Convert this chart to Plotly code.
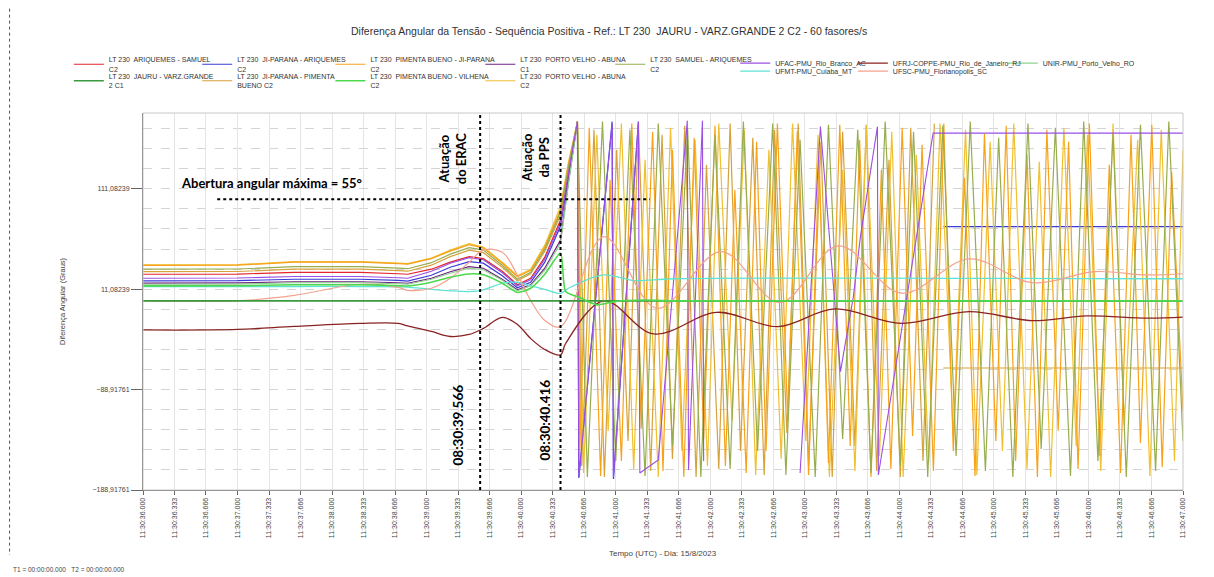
import plotly.graph_objects as go

# Figure geometry (pixels). The page body adds an 8px offset, so the figure is drawn 8px smaller.
OFF = 8
W, H = 1206, 569
ML, MR, MT, MB = 134.5, 31, 105.3, 87
PW, PH = W - ML - MR, H - MT - MB


def px_x(px):
    return (px - OFF - ML) / PW


def px_y(py):
    return 1 - (py - OFF - MT) / PH


Y_MIN, Y_MAX = -188.91761, 186.6

# ---------------- data ----------------
x_ticks = [36.0, 36.333, 36.666, 37.0, 37.333, 37.666, 38.0, 38.333, 38.666, 39.0, 39.333, 39.666,
           40.0, 40.333, 40.666, 41.0, 41.333, 41.666, 42.0, 42.333, 42.666, 43.0, 43.333, 43.666,
           44.0, 44.333, 44.666, 45.0, 45.333, 45.666, 46.0, 46.333, 46.666, 47.0]
x_labels = ["11:30:36.000", "11:30:36.333", "11:30:36.666", "11:30:37.000", "11:30:37.333", "11:30:37.666",
            "11:30:38.000", "11:30:38.333", "11:30:38.666", "11:30:39.000", "11:30:39.333", "11:30:39.666",
            "11:30:40.000", "11:30:40.333", "11:30:40.666", "11:30:41.000", "11:30:41.333", "11:30:41.666",
            "11:30:42.000", "11:30:42.333", "11:30:42.666", "11:30:43.000", "11:30:43.333", "11:30:43.666",
            "11:30:44.000", "11:30:44.333", "11:30:44.666", "11:30:45.000", "11:30:45.333", "11:30:45.666",
            "11:30:46.000", "11:30:46.333", "11:30:46.666", "11:30:47.000"]

# common time base before the PPS action (s after 11:30:00)
t_pre = [36.0, 37.0, 37.6, 38.3, 38.7, 38.8, 39.05, 39.25, 39.45, 39.6, 39.8, 39.96, 40.1, 40.25, 40.416]

v_pre_pv2 = [35.3, 35.5, 38.6, 38.6, 37.0, 36.5, 42.0, 50.0, 56.5, 53.0, 38.0, 24.5, 31.0, 55.0, 93.5]
v_pre_pbjp = [34.8, 35.0, 38.0, 38.0, 36.5, 36.0, 41.5, 49.0, 55.5, 52.0, 37.0, 23.5, 30.0, 53.0, 90.0]
v_pre_sam = [31.0, 31.2, 33.5, 33.5, 32.0, 31.5, 37.5, 46.0, 52.5, 50.0, 35.0, 21.0, 28.0, 51.0, 88.0]
v_pre_jpp = [28.5, 28.7, 31.0, 31.0, 29.5, 29.0, 35.0, 43.5, 50.0, 47.5, 33.0, 19.5, 26.5, 49.0, 85.0]
v_pre_as = [26.0, 26.2, 27.8, 27.8, 26.5, 26.0, 31.0, 38.0, 43.5, 41.5, 29.0, 15.5, 22.0, 43.0, 80.0]
v_pre_ufac = [22.0, 22.2, 23.8, 23.8, 22.5, 22.0, 29.0, 37.0, 42.5, 40.5, 27.5, 14.5, 20.5, 41.0, 77.0]
v_pre_jpa = [19.4, 19.6, 21.0, 21.0, 19.8, 19.2, 25.0, 33.0, 38.5, 37.0, 24.5, 12.5, 18.0, 38.0, 74.0]
v_pre_pv1 = [17.1, 17.3, 18.5, 18.5, 17.5, 17.0, 22.0, 28.5, 33.5, 32.0, 21.0, 10.5, 15.5, 32.0, 60.0]
v_pre_unir = [16.0, 16.2, 17.5, 17.5, 16.5, 16.0, 21.0, 27.0, 32.0, 30.5, 20.0, 9.5, 14.5, 30.0, 57.0]
v_pre_vil = [14.4, 14.5, 15.5, 15.5, 14.6, 14.3, 18.0, 23.0, 26.3, 25.5, 17.0, 7.8, 12.0, 26.0, 47.0]
v_pre_ufmt = [13.7, 13.7, 13.8, 13.8, 13.5, 13.2, 11.0, 9.5, 8.7, 10.5, 17.0, 18.0, 14.5, 11.0, 7.0]
v_pre_ufsc = [-0.5, -0.5, 5.0, 16.0, 13.0, 10.0, 12.0, 22.0, 38.0, 50.0, 48.0, 25.0, 0.0, -20.0, -26.2]
v_pre_ufrj = [-29.5, -29.0, -26.0, -23.0, -23.0, -25.5, -31.0, -36.0, -34.0, -28.0, -17.0, -24.0, -38.0, -49.0, -54.4]

# climb to +180 right after the PPS action
t_rise = [40.5, 40.595]
v_rise_pv2 = [138, 178]
v_rise_pbjp = [135, 177]
v_rise_sam = [133, 178]
v_rise_jpp = [132, 178]
v_rise_as = [128, 178]
v_rise_ufac = [127, 178]
v_rise_jpa = [125, 178]
v_rise_pv1 = [118, 178]
v_rise_unir = [116, 177]

# out-of-step (wrapping) part
t_pbjp = [40.62, 40.72, 40.84, 40.94, 41.06, 41.17, 41.27, 41.39, 41.50, 41.60, 41.72, 41.83, 41.93, 42.05,
          42.16, 42.26, 42.38, 42.49, 42.59, 42.71, 42.82, 42.92, 43.04, 43.15, 43.25, 43.37, 43.48, 43.58,
          43.70, 43.81, 43.91, 44.03, 44.14, 44.24, 44.36, 44.47, 44.57, 44.69, 44.80, 44.90, 45.02, 45.13,
          45.23, 45.35, 45.46, 45.56, 45.68, 45.79, 45.89, 46.01, 46.12, 46.22, 46.34, 46.45, 46.55, 46.67,
          46.78, 46.88, 47.0]
v_pbjp = [-148, 172, -175, 120, -160, 176, -128, 168, -170, 150, -176, 162, -138, 174, -165, 110, -172, 158,
          -150, 176, -120, 168, -174, 140, -162, 175, -145, 160, -176, 130, -168, 172, -135, 155, -170, 176,
          -150, 122, -175, 166, -140, 174, -160, 145, -176, 170, -130, 158, -168, 176, -155, 135, -172, 165,
          -142, 175, -166, 128, -110]

t_pv2 = [40.66, 40.80, 40.92, 41.06, 41.19, 41.31, 41.45, 41.58, 41.70, 41.84, 41.97, 42.09, 42.23, 42.36,
         42.48, 42.62, 42.75, 42.87, 43.01, 43.14, 43.26, 43.40, 43.53, 43.65, 43.79, 43.92, 44.04, 44.18,
         44.31, 44.43, 44.57, 44.70, 44.82, 44.96, 45.09, 45.21, 45.35, 45.48, 45.60, 45.74, 45.87, 45.99,
         46.13, 46.26, 46.38, 46.52, 46.65, 46.77, 46.91, 47.0]
v_pv2 = [-172, 165, -130, 176, -168, 140, -176, 172, -150, 160, -165, 176, -120, 170, -174, 150, -158, 176,
         -140, 165, -176, 130, -170, 174, -155, 168, -176, 145, -162, 176, -135, 170, -174, 158, -150, 176,
         -168, 138, -176, 172, -145, 165, -170, 176, -125, 160, -175, 170, -160, 150]

t_sam = [40.70, 40.86, 41.00, 41.15, 41.31, 41.45, 41.60, 41.76, 41.90, 42.05, 42.21, 42.35, 42.50, 42.66,
         42.80, 42.95, 43.11, 43.25, 43.40, 43.56, 43.70, 43.85, 44.01, 44.15, 44.30, 44.46, 44.60, 44.75,
         44.91, 45.05, 45.20, 45.36, 45.50, 45.65, 45.81, 45.95, 46.10, 46.26, 46.40, 46.55, 46.71, 46.85, 47.0]
v_sam = [-176, 178, -160, 170, -175, 176, -145, 172, -176, 165, -168, 178, -150, 176, -174, 160, -176, 175,
         -138, 170, -172, 178, -165, 168, -176, 174, -155, 178, -170, 162, -176, 176, -148, 172, -175, 178,
         -160, 166, -176, 175, -170, 178, -140]

t_jpp = [40.64, 40.77, 40.88, 41.01, 41.13, 41.24, 41.37, 41.49, 41.60, 41.73, 41.85, 41.96, 42.09, 42.21,
         42.32, 42.45, 42.57, 42.68, 42.81, 42.93, 43.04, 43.17, 43.29, 43.40, 43.53, 43.65, 43.76, 43.89,
         44.01, 44.12, 44.25, 44.37, None, 44.466, 47.0]
v_jpp = [-165, 170, -176, 150, -140, 176, -170, 165, -158, 174, -176, 135, -168, 176, -150, 162, -174, 170,
         -132, 176, -165, 158, -176, 168, -145, 175, -170, 140, -176, 172, -160, 176, None, -67.4, -67.4]

t_post_jpa = [40.61, 40.962, 40.976, 41.24, None, 44.466, 47.0]
v_post_jpa = [-177, 178, -178, 178, None, 73.5, 73.5]

t_post_ufac = [40.61, 40.962, 40.976, 41.24, 41.255, 41.45, 41.757, 41.77, 41.917, 41.93, None,
               42.95, 43.165, 43.377, 43.514, 43.588, 43.768, 43.778, 44.357, 47.0]
v_post_ufac = [-176, 176, -176, 178, -172, -159, 179, -169, 179, -160, None,
               -172, 173, -71, 4, 63.5, 173, -174, 166.6, 166.6]

t_post_ufmt = [40.5, 40.874, 41.2, 41.6, 47.0]
v_post_ufmt = [12.0, 25.3, 19.7, 21.5, 21.5]

t_post_ufsc = [40.874, 41.438, 42.115, 42.737, 43.356, 44.022, 44.737, 45.403, 46.07, 46.62, 47.0]
v_post_ufsc = [63.5, -7.9, 48.6, -2.3, 54.3, 7.1, 41.3, 17.7, 28.6, 25.3, 26.5]

t_post_ufrj = [40.47, 40.874, 41.403, 42.071, 42.715, 43.314, 44.022, 44.737, 45.403, 45.979, 46.62, 47.0]
v_post_ufrj = [-43.0, -0.6, -33.5, -11.9, -26.2, -8.6, -22.9, -11.3, -20.2, -15.5, -17.8, -16.8]

t_post_vil = [40.47, 40.6, 40.8, 41.0, 41.3, 41.6, 47.0]
v_post_vil = [8.7, 3.5, -4.5, -1.0, 0.3, -0.5, -0.5]

t_jauru = [36.0, 47.0]
v_jauru = [-0.5, -0.5]

# ---------------- traces ----------------
# legend slot: (text x px, centre y px)
leg_cols = [108.3, 236.7, 370, 520, 650, 775, 892.7, 1042.7]
ROW1_2L, ROW2_2L, ROW1_1L, ROW2_1L = 65.0, 81.5, 63.5, 71.5

series = [
    # name, colour, width, x, y, shape, smoothing, legend slot
    ("LT 230  JI-PARANA - ARIQUEMES<br>C2", "#3a3ad8", 1.2,
     t_pre + t_rise + t_post_jpa, v_pre_jpa + v_rise_jpa + v_post_jpa, "linear", 0, (leg_cols[1], ROW1_2L)),
    ("LT 230  ARIQUEMES - SAMUEL<br>C2", "#e3262b", 1.2,
     t_pre + t_rise, v_pre_as + v_rise_as, "linear", 0, (leg_cols[0], ROW1_2L)),
    ("LT 230  PORTO VELHO - ABUNA<br>C1", "#6b2080", 1.2,
     t_pre + t_rise, v_pre_pv1 + v_rise_pv1, "linear", 0, (leg_cols[3], ROW1_2L)),
    ("UNIR-PMU_Porto_Velho_RO", "#8fd08f", 1.2,
     t_pre + t_rise, v_pre_unir + v_rise_unir, "linear", 0, (leg_cols[7], ROW1_1L)),
    ("LT 230  JI-PARANA - PIMENTA<br>BUENO C2", "#d6a23c", 1.2,
     t_pre + t_rise + t_jpp, v_pre_jpp + v_rise_jpp + v_jpp, "linear", 0, (leg_cols[1], ROW2_2L)),
    ("LT 230  PORTO VELHO - ABUNA<br>C2", "#f0c030", 1.2,
     t_pre + t_rise + t_pv2, v_pre_pv2 + v_rise_pv2 + v_pv2, "linear", 0, (leg_cols[3], ROW2_2L)),
    ("LT 230  PIMENTA BUENO - JI-PARANA<br>C2", "#f7a21b", 1.2,
     t_pre + t_rise + t_pbjp, v_pre_pbjp + v_rise_pbjp + v_pbjp, "linear", 0, (leg_cols[2], ROW1_2L)),
    ("LT 230  SAMUEL - ARIQUEMES<br>C2", "#98ad4e", 1.2,
     t_pre + t_rise + t_sam, v_pre_sam + v_rise_sam + v_sam, "linear", 0, (leg_cols[4], ROW1_2L)),
    ("UFAC-PMU_Rio_Branco_AC", "#9b4fe3", 1.1,
     t_pre + t_rise + t_post_ufac, v_pre_ufac + v_rise_ufac + v_post_ufac, "linear", 0, (leg_cols[5], ROW1_1L)),
    ("UFMT-PMU_Cuiaba_MT", "#5ee3d3", 1.3,
     t_pre + t_post_ufmt, v_pre_ufmt + v_post_ufmt, "spline", 0.8, (leg_cols[5], ROW2_1L)),
    ("UFSC-PMU_Florianopolis_SC", "#f3a28e", 1.2,
     t_pre + t_post_ufsc, v_pre_ufsc + v_post_ufsc, "spline", 1.0, (leg_cols[6], ROW2_1L)),
    ("UFRJ-COPPE-PMU_Rio_de_Janeiro_RJ", "#8a2222", 1.3,
     t_pre + t_post_ufrj, v_pre_ufrj + v_post_ufrj, "spline", 1.0, (leg_cols[6], ROW1_1L)),
    ("LT 230  JAURU - VARZ.GRANDE<br>2 C1", "#3a9a3f", 1.6,
     t_jauru, v_jauru, "linear", 0, (leg_cols[0], ROW2_2L)),
    ("LT 230  PIMENTA BUENO - VILHENA<br>C2", "#4ed84e", 1.6,
     t_pre + t_post_vil, v_pre_vil + v_post_vil, "spline", 0.6, (leg_cols[2], ROW2_2L)),
]

fig = go.Figure()
legends = {}
for i, (name, color, width, xs, ys, shape, smooth, slot) in enumerate(series):
    key = "legend" if i == 0 else "legend%d" % (i + 1)
    line = dict(color=color, width=width, shape=shape)
    if shape == "spline":
        line["smoothing"] = smooth
    fig.add_trace(go.Scatter(x=xs, y=ys, mode="lines", name=name, line=line,
                             legend=key, hoverinfo="skip"))
    legends[key] = dict(x=px_x(slot[0] - 40), xanchor="left", y=px_y(slot[1]), yanchor="middle",
                        bgcolor="rgba(0,0,0,0)", borderwidth=0, itemwidth=30,
                        font=dict(size=7, color="#333", family="Liberation Sans, Arial, sans-serif"))

title = "Diferença Angular da Tensão - Sequência Positiva - Ref.: LT 230  JAURU - VARZ.GRANDE 2 C2 - 60 fasores/s"
bold = dict(family="Lato, Open Sans, sans-serif", color="black")


def paper_note(text, x, y, size, **kw):
    d = dict(text=text, xref="paper", yref="paper", x=x, y=y, xanchor="center", yanchor="middle",
             showarrow=False, font=dict(size=size, color="#444"))
    d.update(kw)
    return d


annotations = [
    paper_note(title, px_x(609), px_y(31), 10.5, font=dict(size=10.5, color="#333")),
    paper_note("Diferença Angular (Graus)", px_x(62), 0.5, 7.5, textangle=-90),
    paper_note("Tempo (UTC) - Dia: 15/8/2023", 0.5, px_y(553), 8),
    paper_note("T1 = 00:00:00.000   T2 = 00:00:00.000", px_x(10), px_y(569), 6.5, xanchor="left"),
    dict(text="<b>Abertura angular máxima = 55°</b>", x=36.386, y=117.1, xanchor="left", showarrow=False,
         font=dict(size=13, **bold)),
    dict(text="<b>Atuação<br>do ERAC</b>", x=39.273, y=142, textangle=-90, showarrow=False,
         font=dict(size=13, **bold)),
    dict(text="<b>Atuação<br>da PPS</b>", x=40.151, y=142, textangle=-90, showarrow=False,
         font=dict(size=13, **bold)),
    dict(text="<b>08:30:39.566</b>", x=39.337, y=-124.2, textangle=-90, showarrow=False,
         font=dict(size=13.5, **bold)),
    dict(text="<b>08:30:40.416</b>", x=40.257, y=-119.2, textangle=-90, showarrow=False,
         font=dict(size=13.5, **bold)),
]

dotted = dict(color="black", width=2, dash="dot")
outer = dict(color="#555", width=1, dash="dot")
shapes = [
    dict(type="rect", xref="paper", yref="paper", x0=0, x1=1, y0=0, y1=1, line=dict(color="#c8c8c8", width=1)),
    dict(type="line", x0=39.566, x1=39.566, yref="paper", y0=0, y1=1, line=dotted),
    dict(type="line", x0=40.416, x1=40.416, yref="paper", y0=0, y1=1, line=dotted),
    dict(type="line", x0=36.785, x1=41.36, y0=100.8, y1=100.8, line=dotted),
    dict(type="line", xref="paper", yref="paper", x0=px_x(9), x1=px_x(9), y0=px_y(3), y1=px_y(555), line=outer),
    dict(type="line", xref="paper", yref="paper", x0=px_x(9), x1=px_x(1211), y0=px_y(3), y1=px_y(3), line=outer),
    dict(type="line", xref="paper", yref="paper", x0=px_x(1211), x1=px_x(1211), y0=px_y(3), y1=px_y(555), line=outer),
]

fig.update_layout(
    width=W, height=H,
    margin=dict(l=ML, r=MR, t=MT, b=MB, autoexpand=False),
    paper_bgcolor="white", plot_bgcolor="white",
    separators=",.",
    font=dict(family="Liberation Sans, Arial, sans-serif", size=7, color="#444"),
    showlegend=True,
    hovermode=False,
    xaxis=dict(range=[36.0, 47.0], tickvals=x_ticks, ticktext=x_labels, tickangle=-90,
               showgrid=True, gridcolor="#e4e4e4", gridwidth=1, zeroline=False,
               showline=True, linecolor="#666", ticks="outside", ticklen=4, tickcolor="#666",
               tickfont=dict(size=7, color="#444")),
    yaxis=dict(range=[Y_MIN, Y_MAX], tick0=Y_MIN, dtick=100, tickformat=".5f",
               showgrid=True, gridcolor="#d4d4d4", griddash="dash", zeroline=False,
               minor=dict(tick0=Y_MIN, dtick=20, showgrid=True, gridcolor="#d4d4d4", griddash="dash"),
               showline=True, linecolor="#666", ticks="outside", ticklen=11, tickcolor="#666",
               tickfont=dict(size=7, color="#444")),
    annotations=annotations,
    shapes=shapes,
    **legends,
)

fig.write_html("out.html")
